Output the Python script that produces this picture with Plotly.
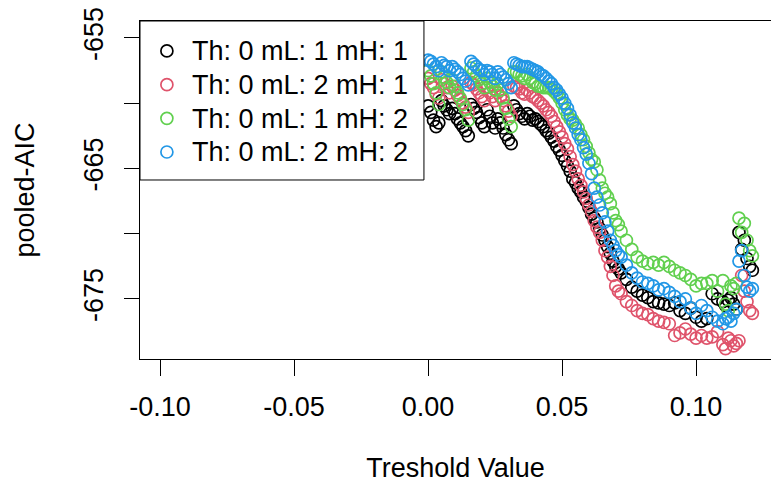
import plotly.graph_objects as go

# Threshold values (x)
threshold = [0.000, 0.001, 0.002, 0.003, 0.004, 0.005, 0.006, 0.007, 0.008, 0.009,
             0.010, 0.011, 0.012, 0.013, 0.014, 0.015, 0.016, 0.017, 0.018, 0.019,
             0.020, 0.021, 0.022, 0.023, 0.024, 0.025, 0.026, 0.027, 0.028, 0.029,
             0.030, 0.031, 0.032, 0.033, 0.034, 0.035, 0.036, 0.037, 0.038, 0.039,
             0.040, 0.041, 0.042, 0.043, 0.044, 0.045, 0.046, 0.047, 0.048, 0.049,
             0.050, 0.051, 0.052, 0.053, 0.054, 0.055, 0.056, 0.057, 0.058, 0.059,
             0.060,
             0.061, 0.062, 0.063, 0.064, 0.065, 0.066, 0.067, 0.068, 0.069, 0.070, 0.071,
             0.072, 0.074, 0.076, 0.078, 0.080,
             0.082, 0.084, 0.086, 0.088, 0.090, 0.092, 0.094, 0.096, 0.098, 0.100,
             0.102, 0.104, 0.106, 0.108, 0.110,
             0.111, 0.112, 0.113, 0.114, 0.115, 0.116, 0.117, 0.118, 0.119, 0.120, 0.121]

# pooled-AIC, Th: 0 mL: 1 mH: 1
aic_l1_h1 = [-660.2, -660.7, -661.3, -661.8, -661.5, -659.8, -660.2, -660.5, -660.8, -660.4,
             -660.8, -661.2, -661.5, -661.8, -662.1, -662.5, -660.1, -660.4, -660.7, -661.1,
             -661.5, -661.8, -660.5, -661.0, -661.5, -661.9, -661.2, -661.5, -661.9, -662.4,
             -662.8, -663.1, -660.2, -660.5, -660.8, -661.0, -661.2, -660.8, -661.0, -661.3,
             -661.2, -661.4, -661.6, -661.8, -662.1, -662.3, -662.6, -662.9, -663.3, -663.6,
             -664.0, -664.4, -664.8, -665.2, -665.8, -666.1, -666.5, -666.8, -667.2, -667.5,
             -668.0,
             -668.5, -668.8, -669.1, -669.6, -670.1, -670.5, -671.0, -671.5, -672.1, -672.5, -672.7,
             -673.0, -673.5, -674.1, -674.4, -674.7,
             -674.9, -675.2, -675.3, -675.4, -675.5, -675.3, -675.9, -676.1, -675.7, -676.4,
             -676.7, -676.5, -674.6, -675.0, -675.2,
             -675.5, -675.1, -674.9, -675.4, -675.8, -669.9, -671.2, -670.5, -671.9, -672.5, -672.8]

# pooled-AIC, Th: 0 mL: 2 mH: 1
aic_l2_h1 = [-658.1, -658.5, -658.8, -659.3, -659.6, -658.2, -658.5, -658.8, -659.2, -658.7,
             -659.0, -659.4, -659.7, -660.0, -660.3, -660.7, -658.4, -658.6, -658.9, -659.2,
             -659.5, -659.8, -658.8, -659.2, -659.5, -659.8, -659.2, -659.5, -659.8, -660.2,
             -660.6, -661.0, -658.7, -658.8, -658.9, -659.2, -659.3, -659.0, -659.2, -659.5,
             -659.6, -659.8, -660.0, -660.2, -660.5, -660.7, -661.0, -661.4, -661.8, -662.2,
             -662.6, -663.1, -663.5, -664.1, -664.7, -665.2, -665.8, -666.3, -666.8, -667.3,
             -667.8,
             -668.3, -669.0, -669.5, -669.9, -670.5, -671.3, -671.8, -672.5, -673.2, -674.0, -674.4,
             -674.6, -675.2, -675.5, -675.9, -676.1,
             -676.2, -676.5, -676.7, -676.8, -676.9, -677.8, -677.6, -677.3, -677.7, -678.0,
             -677.8, -678.0, -677.9, -677.5, -678.5,
             -678.8, -678.0, -678.2, -678.6, -678.4, -678.2, -673.2, -674.4, -675.2, -675.9, -676.1]

# pooled-AIC, Th: 0 mL: 1 mH: 2
aic_l1_h2 = [-657.5, -657.9, -658.5, -659.2, -660.1, -657.6, -658.0, -658.4, -658.8, -658.2,
             -658.7, -659.2, -659.6, -660.1, -660.5, -661.3, -657.3, -657.6, -657.9, -658.2,
             -658.5, -658.8, -658.1, -658.4, -658.7, -659.0, -658.5, -659.0, -659.6, -660.4,
             -661.2, -661.8, -657.6, -657.6, -657.8, -657.9, -658.1, -657.8, -658.1, -658.4,
             -658.5, -658.7, -658.7, -658.8, -658.8, -658.8, -658.9, -659.1, -659.3, -659.6,
             -660.0, -660.5, -660.9, -661.2, -661.3, -661.6, -661.9, -662.4, -662.8, -663.3,
             -663.8,
             -664.3, -664.5, -665.1, -665.9, -666.5, -666.9, -667.2, -667.7, -668.4, -669.0, -669.3,
             -669.8, -670.5, -671.2, -671.8, -672.1,
             -672.3, -672.2, -672.4, -672.2, -672.5, -672.8, -673.0, -673.2, -673.5, -674.0,
             -673.8, -673.8, -673.6, -674.4, -673.6,
             -675.4, -675.9, -674.0, -674.2, -673.8, -668.8, -669.9, -669.2, -670.5, -671.3, -671.7]

# pooled-AIC, Th: 0 mL: 2 mH: 2
aic_l2_h2 = [-656.7, -656.8, -657.0, -657.2, -657.5, -656.9, -657.1, -657.2, -657.5, -657.2,
             -657.4, -657.6, -657.8, -658.1, -658.3, -658.6, -656.8, -657.0, -657.2, -657.4,
             -657.5, -657.8, -657.5, -657.6, -657.8, -658.1, -657.6, -657.8, -658.0, -658.2,
             -658.5, -658.8, -656.9, -657.0, -657.1, -657.2, -657.2, -657.2, -657.3, -657.4,
             -657.5, -657.6, -657.8, -657.9, -658.1, -658.3, -658.5, -658.8, -659.0, -659.3,
             -659.6, -660.0, -660.4, -660.9, -661.5, -661.9, -662.4, -662.8, -663.4, -663.9,
             -664.6,
             -665.4, -666.5, -667.2, -667.8, -668.4, -669.1, -669.8, -670.5, -670.9, -671.3, -671.6,
             -671.8, -672.4, -673.0, -673.4, -673.7,
             -673.8, -674.0, -674.3, -674.2, -674.5, -674.8, -675.2, -675.0, -675.7, -676.1,
             -675.5, -675.9, -676.4, -676.7, -676.9,
             -676.5, -676.4, -676.7, -676.1, -675.8, -672.1, -671.3, -673.2, -674.1, -674.4, -674.2]

series_names = ["Th: 0 mL: 1 mH: 1", "Th: 0 mL: 2 mH: 1",
                "Th: 0 mL: 1 mH: 2", "Th: 0 mL: 2 mH: 2"]
series_values = [aic_l1_h1, aic_l2_h1, aic_l1_h2, aic_l2_h2]
series_colors = ["#000000", "#DF536B", "#61D04F", "#2297E6"]

for v in series_values:
    if len(v) != len(threshold):
        raise ValueError("length mismatch %d vs %d" % (len(v), len(threshold)))

x_ticks = [-0.10, -0.05, 0.00, 0.05, 0.10]
x_ticklabels = ["-0.10", "-0.05", "0.00", "0.05", "0.10"]
y_ticks = [-675, -670, -665, -660, -655]
y_ticklabels = ["-675", "", "-665", "", "-655"]

FONT = "Liberation Sans, Arial, Helvetica, sans-serif"

fig = go.Figure()
for name, vals, col in zip(series_names, series_values, series_colors):
    fig.add_trace(go.Scatter(
        x=threshold, y=vals, mode="markers",
        name="<span style='font-size:27px'>%s</span>" % name,
        marker=dict(symbol="circle-open", size=12, color=col,
                    line=dict(width=1.7, color=col)),
    ))

# legend frame (R-style boxed legend in the top-left corner)
fig.add_shape(type="rect", xref="paper", yref="paper",
              x0=0, x1=0.450, y0=0.5296, y1=1.0,
              fillcolor="white", line=dict(color="#000", width=1), layer="above")

fig.update_layout(
    width=771, height=483,
    margin=dict(l=140, r=0, t=21, b=124),
    paper_bgcolor="white", plot_bgcolor="white",
    font=dict(family=FONT, size=27, color="#000"),
    showlegend=True,
    legend=dict(x=0.003, y=0.976, xanchor="left", yanchor="top",
                bgcolor="rgba(0,0,0,0)", borderwidth=0,
                font=dict(family=FONT, size=23.6, color="#000"),
                itemwidth=40, tracegroupgap=0),
    xaxis=dict(range=[-0.1075, 0.12795], tickvals=x_ticks, ticktext=x_ticklabels,
               ticks="outside", ticklen=16, tickwidth=1, tickcolor="#000",
               ticklabelstandoff=8,
               showline=True, linecolor="#000", linewidth=1, mirror=True,
               showgrid=False, zeroline=False,
               title=dict(text="Treshold Value", standoff=42,
                          font=dict(family=FONT, size=27))),
    yaxis=dict(range=[-679.6, -653.7], tickvals=y_ticks, ticktext=y_ticklabels,
               ticks="outside", ticklen=15, tickwidth=1, tickcolor="#000",
               tickangle=-90, ticklabelstandoff=10,
               showline=True, linecolor="#000", linewidth=1, mirror=False,
               showgrid=False, zeroline=False,
               title=dict(text="pooled-AIC", standoff=36,
                          font=dict(family=FONT, size=27))),
)

fig.write_html("out.html")
